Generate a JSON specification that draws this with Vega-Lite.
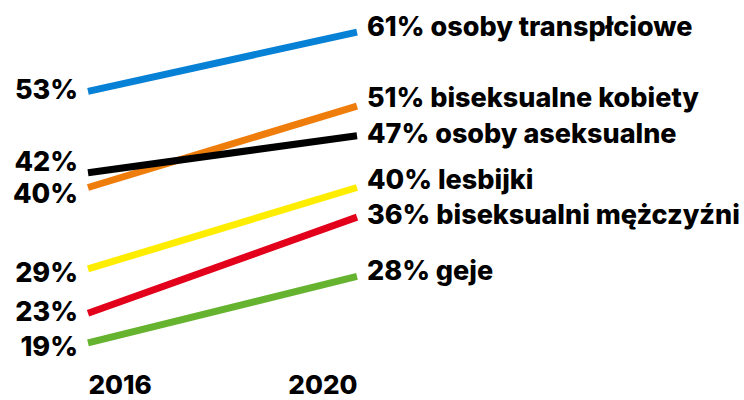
{
  "$schema": "https://vega.github.io/schema/vega-lite/v6.json",
  "autosize": {"type": "none"},
  "width": 269,
  "height": 370,
  "padding": {"left": 88, "top": 2.5, "right": 387, "bottom": 27.5},
  "background": "white",
  "config": {"view": {"stroke": null}, "font": "Inter"},
  "data": {
    "values": [
      {"group": "osoby transpłciowe", "year": 2016, "value": 53},
      {"group": "osoby transpłciowe", "year": 2020, "value": 61},
      {"group": "biseksualne kobiety", "year": 2016, "value": 40},
      {"group": "biseksualne kobiety", "year": 2020, "value": 51},
      {"group": "osoby aseksualne", "year": 2016, "value": 42},
      {"group": "osoby aseksualne", "year": 2020, "value": 47},
      {"group": "lesbijki", "year": 2016, "value": 29},
      {"group": "lesbijki", "year": 2020, "value": 40},
      {"group": "biseksualni mężczyźni", "year": 2016, "value": 23},
      {"group": "biseksualni mężczyźni", "year": 2020, "value": 36},
      {"group": "geje", "year": 2016, "value": 19},
      {"group": "geje", "year": 2020, "value": 28}
    ]
  },
  "transform": [
    {"calculate": "datum.value + '%'", "as": "leftLabel"},
    {"calculate": "datum.value + '% ' + datum.group", "as": "rightLabel"}
  ],
  "encoding": {
    "x": {
      "field": "year", "type": "quantitative",
      "scale": {"domain": [2016, 2020], "nice": false, "zero": false},
      "axis": {
        "values": [2016, 2020], "format": "d", "title": null,
        "domain": false, "ticks": false, "grid": false,
        "labelFlush": true, "labelFontSize": 26, "labelFontWeight": 800,
        "labelColor": "#000", "labelBaseline": "alphabetic", "labelPadding": 21, "labelFont": "Inter"
      }
    },
    "y": {
      "field": "value", "type": "quantitative",
      "scale": {"domain": [15, 65], "nice": false, "zero": false},
      "axis": null
    }
  },
  "layer": [
    {
      "mark": {"type": "line", "strokeWidth": 7, "strokeCap": "butt"},
      "encoding": {
        "color": {
          "field": "group", "type": "nominal", "legend": null,
          "scale": {
            "domain": ["osoby transpłciowe", "biseksualne kobiety", "osoby aseksualne", "lesbijki", "biseksualni mężczyźni", "geje"],
            "range": ["#0781d6", "#ef7d0b", "#000000", "#ffed00", "#e3001b", "#65b32e"]
          }
        },
        "detail": {"field": "group"}
      }
    },
    {
      "transform": [{"filter": "datum.year == 2016 && (datum.value == 53 || datum.value == 23)"}],
      "mark": {"type": "text", "align": "right", "baseline": "middle", "dx": -10, "dy": 0, "fontSize": 27, "fontWeight": 800, "font": "Inter", "color": "#000"},
      "encoding": {"text": {"field": "leftLabel"}}
    },
    {
      "transform": [{"filter": "datum.year == 2016 && datum.value == 42"}],
      "mark": {"type": "text", "align": "right", "baseline": "middle", "dx": -10, "dy": -10, "fontSize": 27, "fontWeight": 800, "font": "Inter", "color": "#000"},
      "encoding": {"text": {"field": "leftLabel"}}
    },
    {
      "transform": [{"filter": "datum.year == 2016 && datum.value == 40"}],
      "mark": {"type": "text", "align": "right", "baseline": "middle", "dx": -10, "dy": 7, "fontSize": 27, "fontWeight": 800, "font": "Inter", "color": "#000"},
      "encoding": {"text": {"field": "leftLabel"}}
    },
    {
      "transform": [{"filter": "datum.year == 2016 && (datum.value == 29 || datum.value == 19)"}],
      "mark": {"type": "text", "align": "right", "baseline": "middle", "dx": -10, "dy": 5, "fontSize": 27, "fontWeight": 800, "font": "Inter", "color": "#000"},
      "encoding": {"text": {"field": "leftLabel"}}
    },
    {
      "transform": [{"filter": "datum.year == 2020 && (datum.value == 47 || datum.value == 36)"}],
      "mark": {"type": "text", "align": "left", "baseline": "middle", "dx": 10, "dy": -1, "fontSize": 27, "fontWeight": 800, "font": "Inter", "color": "#000"},
      "encoding": {"text": {"field": "rightLabel"}}
    },
    {
      "transform": [{"filter": "datum.year == 2020 && (datum.value == 61 || datum.value == 28)"}],
      "mark": {"type": "text", "align": "left", "baseline": "middle", "dx": 10, "dy": -4, "fontSize": 27, "fontWeight": 800, "font": "Inter", "color": "#000"},
      "encoding": {"text": {"field": "rightLabel"}}
    },
    {
      "transform": [{"filter": "datum.year == 2020 && (datum.value == 51 || datum.value == 40)"}],
      "mark": {"type": "text", "align": "left", "baseline": "middle", "dx": 10, "dy": -7, "fontSize": 27, "fontWeight": 800, "font": "Inter", "color": "#000"},
      "encoding": {"text": {"field": "rightLabel"}}
    }
  ]
}
